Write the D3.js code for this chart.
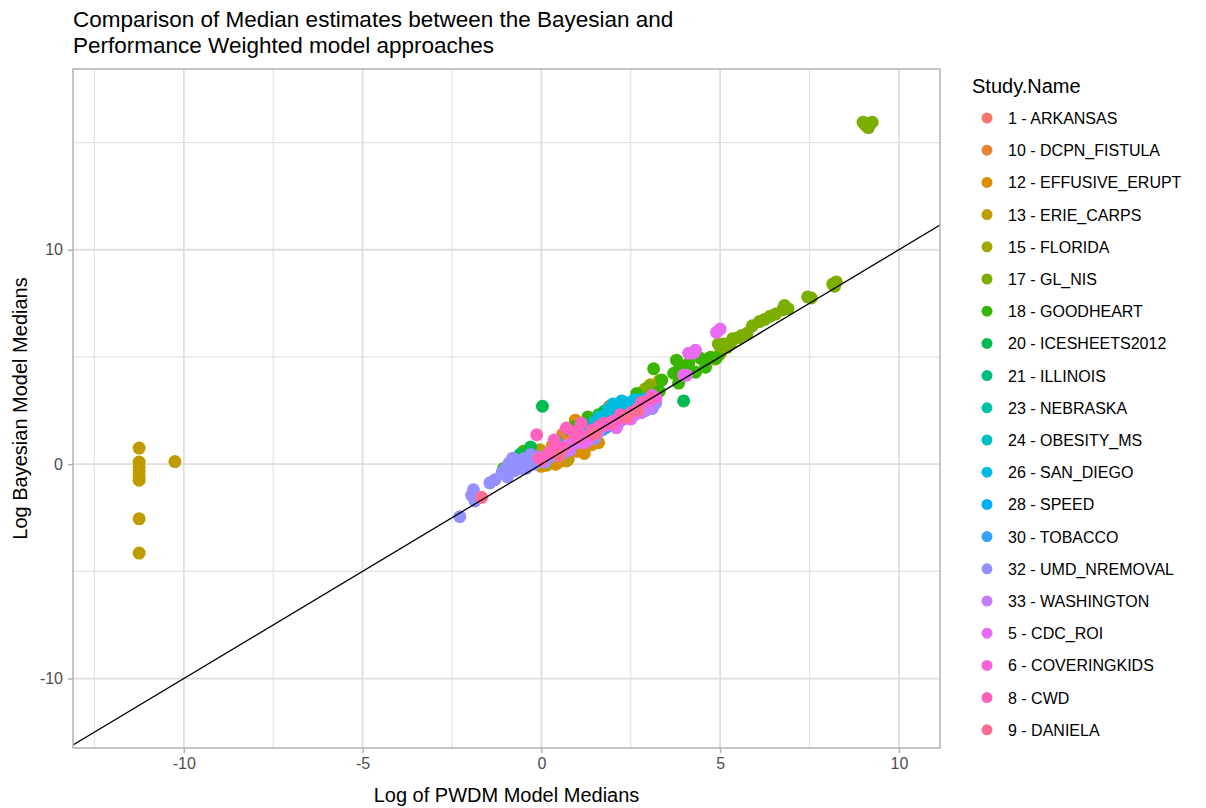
<!DOCTYPE html>
<html>
<head>
<meta charset="utf-8">
<script src="https://cdn.jsdelivr.net/npm/d3@7"></script>
<style>
  body { margin: 0; background: #fff; }
  text { font-family: "Liberation Sans", Arial, sans-serif; }
</style>
</head>
<body>
<div id="chart"></div>
<script>
// study names in legend (factor) order
const studyNames = [
  "1 - ARKANSAS", "10 - DCPN_FISTULA", "12 - EFFUSIVE_ERUPT", "13 - ERIE_CARPS",
  "15 - FLORIDA", "17 - GL_NIS", "18 - GOODHEART", "20 - ICESHEETS2012",
  "21 - ILLINOIS", "23 - NEBRASKA", "24 - OBESITY_MS", "26 - SAN_DIEGO",
  "28 - SPEED", "30 - TOBACCO", "32 - UMD_NREMOVAL", "33 - WASHINGTON",
  "5 - CDC_ROI", "6 - COVERINGKIDS", "8 - CWD", "9 - DANIELA"
];
const studyColors = [
  "#F8766D", "#EA8331", "#D89000", "#C09B00", "#A3A500", "#7CAE00", "#39B600", "#00BB4E",
  "#00BF7D", "#00C1A3", "#00BFC4", "#00BAE0", "#00B0F6", "#35A2FF", "#9590FF", "#C77CFF",
  "#E76BF3", "#FA62DB", "#FF62BC", "#FF6C91"
];

// [log PWDM median, log Bayesian median]
const arkansas = [[0.9, 1.2], [1.5, 1.6], [2.2, 2.3], [2.8, 2.7]];
const dcpnFistula = [[1.9, 2.7], [1.3, 1.9], [0.6, 1.4], [2.5, 2.6]];
const effusiveErupt = [[0.75, 0.25], [0.7, 0.15], [0.5, 0.1], [1.0, 0.6], [1.4, 0.9], [0.0, -0.1], [2.0, 2.5],
  [0.95, 2.05], [0.3, 0.85], [1.2, 0.5], [0.4, 0.0], [1.6, 1.0]];
const erieCarps = [[-11.25, 0.75], [-11.25, 0.1], [-11.25, -0.15], [-11.25, -0.35], [-11.25, -0.55], [-11.25, -0.75],
  [-11.25, -2.55], [-11.25, -4.15], [-10.25, 0.12], [-0.04, 0.67], [0.74, 0.2], [0.15, -0.05]];
const florida = [[3.05, 3.7], [2.9, 3.5], [3.3, 3.9]];
const glNis = [[9.0, 15.95], [9.25, 15.95], [9.1, 15.75], [9.15, 15.7], [9.05, 15.85],
  [8.15, 8.4], [8.25, 8.5], [8.2, 8.3], [7.45, 7.8], [7.55, 7.75], [6.8, 7.4], [6.9, 7.25], [6.75, 7.2],
  [6.55, 7.0], [6.4, 6.9], [6.25, 6.75], [6.1, 6.65], [5.9, 6.45], [5.75, 6.1], [5.6, 6.0], [5.35, 5.85],
  [5.3, 5.65], [5.1, 5.6], [4.95, 5.6], [5.2, 5.45], [5.5, 5.9], [5.0, 5.15], [4.85, 4.9], [3.0, 3.6]];
const goodheart = [[3.14, 4.45], [3.78, 4.85], [3.84, 4.38], [3.37, 3.92], [3.84, 3.78], [4.12, 4.7], [4.45, 4.94],
  [4.73, 4.99], [4.59, 4.52], [4.31, 4.29], [3.7, 4.24], [2.67, 3.3], [4.0, 4.5], [4.9, 4.95], [-1.05, -0.2],
  [1.3, 2.2], [1.6, 2.3], [1.9, 2.5], [2.3, 2.6], [0.8, 1.6], [2.8, 3.0], [3.3, 3.4],
  [0.4, 1.1], [0.9, 1.75], [-0.5, 0.6]];
const icesheets2012 = [[0.03, 2.7], [3.98, 2.95], [-0.3, 0.8], [1.2, 1.9], [1.75, 2.45], [-0.6, 0.45]];
const illinois = [[1.0, 1.3], [1.8, 2.0], [2.4, 2.4]];
const nebraska = [[1.2, 1.4], [2.0, 2.2]];
const obesityMs = [[1.5, 1.9], [2.2, 2.7], [2.5, 2.8], [1.8, 2.1], [2.9, 2.9], [1.2, 1.6], [1.9, 2.4],
  [2.7, 3.0], [3.0, 3.1], [1.6, 2.2]];
const sanDiego = [[2.25, 2.95], [2.1, 2.5], [2.0, 2.8], [2.6, 2.9], [2.4, 2.85], [1.7, 2.2], [2.8, 2.6],
  [1.2, 1.5], [0.5, 0.9], [2.3, 2.7], [2.6, 3.0], [2.9, 3.05], [1.5, 2.0], [1.9, 2.6], [2.2, 2.4], [3.1, 3.1]];
const speed = [[1.4, 1.3], [2.0, 1.8], [1.7, 1.6]];
const tobacco = [[1.1, 1.1], [1.8, 1.7], [2.6, 2.4], [0.6, 0.7], [2.2, 2.0], [1.5, 1.5]];
const umdNremoval = [[-2.28, -2.45], [-1.9, -1.2], [-1.86, -1.72], [-1.95, -1.45], [-1.3, -0.73], [-1.44, -0.87],
  [-0.95, -0.6], [-0.8, 0.28], [-0.6, 0.1], [-0.42, -0.19], [-0.7, 0.0], [-0.5, 0.25], [-0.9, 0.05],
  [-0.06, 0.33], [0.42, 0.42], [-0.2, 0.0], [0.2, 0.3], [3.2, 2.85], [3.1, 2.6], [2.9, 2.5], [1.5, 1.2],
  [-1.1, -0.4], [-1.0, -0.2], [-0.75, -0.3], [-0.3, 0.45], [0.1, 0.1], [0.6, 0.5], [-0.55, -0.2]];
const washington = [[0.3, 0.5], [1.0, 1.0], [1.6, 1.5], [2.1, 1.9], [2.6, 2.3], [3.0, 2.6], [2.9, 2.9],
  [0.8, 0.65], [1.3, 1.1], [2.3, 2.1], [2.8, 2.4]];
const cdcRoi = [[4.12, 5.17], [4.31, 5.31], [4.9, 6.15], [5.0, 6.3], [4.26, 5.2], [4.06, 4.15], [3.98, 4.15],
  [3.1, 3.2], [2.1, 1.7], [2.5, 2.1], [1.2, 1.0], [0.8, 0.9], [3.0, 2.9]];
const coveringKids = [[0.5, 0.6], [1.3, 1.3], [2.0, 2.0], [2.7, 2.6], [3.2, 3.1]];
const cwd = [[-0.13, 1.37], [0.7, 1.68], [1.11, 1.91], [0.36, 1.12], [0.03, 0.19], [0.22, 0.56], [1.06, 1.35],
  [1.42, 1.58], [1.81, 1.82], [1.0, 1.21], [0.64, 0.79], [0.28, 0.56], [-0.06, 0.28], [1.39, 1.49],
  [1.75, 1.91], [1.89, 1.91], [2.25, 2.14], [2.81, 2.89], [3.05, 3.1], [2.5, 2.4], [2.0, 1.9],
  [0.4, 0.9], [0.9, 1.5], [1.6, 1.75], [2.2, 2.3]];
const daniela = [[-1.67, -1.55], [0.5, 0.4], [1.5, 1.4], [2.4, 2.2], [2.7, 2.5]];

const seriesPoints = [arkansas, dcpnFistula, effusiveErupt, erieCarps, florida, glNis, goodheart, icesheets2012,
  illinois, nebraska, obesityMs, sanDiego, speed, tobacco, umdNremoval, washington, cdcRoi, coveringKids, cwd, daniela];

const xTicks = [-10, -5, 0, 5, 10];
const xMinor = [-12.5, -7.5, -2.5, 2.5, 7.5];
const yTicks = [-10, 0, 10];
const yMinor = [-5, 5, 15];

const W = 1206, H = 808;
const panel = { left: 73, right: 940, top: 69, bottom: 748 };

const svg = d3.select("#chart").append("svg")
  .attr("width", W)
  .attr("height", H);

const x = d3.scaleLinear().domain([-13.1, 11.15]).range([panel.left, panel.right]);
const y = d3.scaleLinear().domain([-13.24, 18.43]).range([panel.bottom, panel.top]);
const color = d3.scaleOrdinal().domain(studyNames).range(studyColors);

// grid
const grid = svg.append("g");
grid.selectAll(".xminor").data(xMinor).enter().append("line")
  .attr("x1", d => x(d)).attr("x2", d => x(d))
  .attr("y1", panel.top).attr("y2", panel.bottom)
  .attr("stroke", "#E3E3E3").attr("stroke-width", 1.2);
grid.selectAll(".yminor").data(yMinor).enter().append("line")
  .attr("y1", d => y(d)).attr("y2", d => y(d))
  .attr("x1", panel.left).attr("x2", panel.right)
  .attr("stroke", "#E3E3E3").attr("stroke-width", 1.2);
grid.selectAll(".xmajor").data(xTicks).enter().append("line")
  .attr("x1", d => x(d)).attr("x2", d => x(d))
  .attr("y1", panel.top).attr("y2", panel.bottom)
  .attr("stroke", "#DEDEDE").attr("stroke-width", 1.8);
grid.selectAll(".ymajor").data(yTicks).enter().append("line")
  .attr("y1", d => y(d)).attr("y2", d => y(d))
  .attr("x1", panel.left).attr("x2", panel.right)
  .attr("stroke", "#DEDEDE").attr("stroke-width", 1.8);

// points
svg.append("clipPath").attr("id", "clip").append("rect")
  .attr("x", panel.left).attr("y", panel.top)
  .attr("width", panel.right - panel.left).attr("height", panel.bottom - panel.top);

const plot = svg.append("g").attr("clip-path", "url(#clip)");
const rows = [];
seriesPoints.forEach((pts, i) => pts.forEach(p => rows.push({ study: studyNames[i], px: p[0], by: p[1] })));

plot.selectAll(".dot")
  .data(rows)
  .enter().append("circle")
  .attr("class", "dot")
  .attr("r", 6.5)
  .attr("cx", d => x(d.px))
  .attr("cy", d => y(d.by))
  .style("fill", d => color(d.study));

// y = x reference line
const dom = x.domain();
plot.append("line")
  .attr("x1", x(dom[0])).attr("y1", y(dom[0]))
  .attr("x2", x(dom[1])).attr("y2", y(dom[1]))
  .attr("stroke", "#000").attr("stroke-width", 1.3);

// panel border
svg.append("rect")
  .attr("x", panel.left).attr("y", panel.top)
  .attr("width", panel.right - panel.left).attr("height", panel.bottom - panel.top)
  .attr("fill", "none").attr("stroke", "#B3B3B3").attr("stroke-width", 1.5);

// axes
const xAxis = svg.append("g")
  .attr("transform", `translate(0,${panel.bottom})`)
  .call(d3.axisBottom(x).tickValues(xTicks).tickSize(5).tickPadding(5).tickFormat(d3.format("d")));
const yAxis = svg.append("g")
  .attr("transform", `translate(${panel.left},0)`)
  .call(d3.axisLeft(y).tickValues(yTicks).tickSize(5).tickPadding(5).tickFormat(d3.format("d")));
[xAxis, yAxis].forEach(a => {
  a.select(".domain").remove();
  a.selectAll(".tick line").attr("stroke", "#B3B3B3").attr("stroke-width", 1.5);
  a.selectAll(".tick text")
    .attr("fill", "#4D4D4D")
    .style("font-size", "16px")
    .style("font-family", "'Liberation Sans', Arial, sans-serif");
});
// ggplot uses hyphen-minus
svg.selectAll(".tick text").text(function () { return this.textContent.replace("\u2212", "-"); });

svg.append("text")
  .attr("x", (panel.left + panel.right) / 2)
  .attr("y", 802)
  .attr("text-anchor", "middle")
  .style("font-size", "20px")
  .text("Log of PWDM Model Medians");

svg.append("text")
  .attr("transform", `translate(27,${(panel.top + panel.bottom) / 2}) rotate(-90)`)
  .attr("text-anchor", "middle")
  .style("font-size", "20px")
  .text("Log Bayesian Model Medians");

// title
svg.append("text").attr("x", 73).attr("y", 27)
  .style("font-size", "22.5px")
  .text("Comparison of Median estimates between the Bayesian and");
svg.append("text").attr("x", 73).attr("y", 53)
  .style("font-size", "22.5px")
  .text("Performance Weighted model approaches");

// legend
const legend = svg.append("g").attr("transform", "translate(972,0)");
legend.append("text").attr("x", 0).attr("y", 93)
  .style("font-size", "20px")
  .text("Study.Name");

const items = legend.selectAll(".item")
  .data(studyNames)
  .enter().append("g")
  .attr("transform", (d, i) => `translate(0,${118 + i * 32.2})`);
items.append("circle")
  .attr("cx", 15).attr("cy", 0).attr("r", 5.5)
  .style("fill", d => color(d));
items.append("text")
  .attr("x", 36).attr("y", 6)
  .style("font-size", "16px")
  .text(d => d);
</script>
</body>
</html>
